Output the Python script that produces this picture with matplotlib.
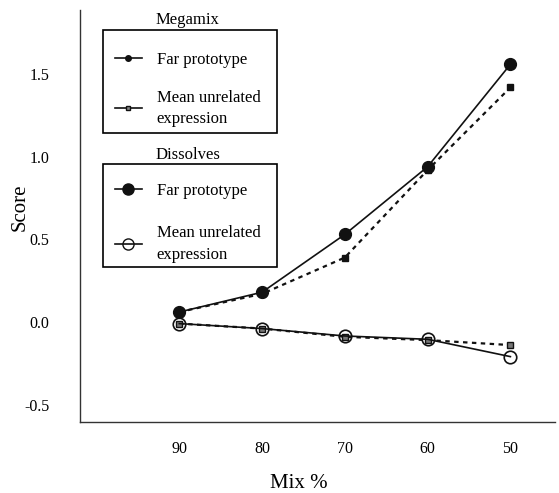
import matplotlib
matplotlib.use("Agg")
import matplotlib.pyplot as plt
from matplotlib.lines import Line2D
from matplotlib.patches import Rectangle

plt.rcParams['font.family'] = ['Liberation Serif', 'DejaVu Serif']

mix = [90, 80, 70, 60, 50]
mega_far = [0.06, 0.17, 0.39, 0.92, 1.42]
mega_unrel = [-0.01, -0.04, -0.09, -0.11, -0.14]
diss_far = [0.06, 0.18, 0.53, 0.94, 1.56]
diss_unrel = [-0.01, -0.04, -0.085, -0.105, -0.21]
yticks = [-0.5, 0.0, 0.5, 1.0, 1.5]
ytick_labels = ['-0.5', '0.0', '0.5', '1.0', '1.5']

fig = plt.figure(figsize=(5.59, 4.93), dpi=100)
ax = fig.add_axes([0.143, 0.144, 0.85, 0.836])

c = '#111111'
ax.plot(mix, mega_far, linestyle=(0, (2, 2)), color=c, lw=1.6, marker='s', ms=4, mfc=c, mec=c, zorder=2)
ax.plot(mix, mega_unrel, linestyle=(0, (2, 2)), color=c, lw=1.6, marker='s', ms=4, mfc='#777777', mec=c, zorder=2)
ax.plot(mix, diss_far, linestyle='-', color=c, lw=1.2, marker='o', ms=8.5, mfc=c, mec=c, zorder=3)
ax.plot(mix, diss_unrel, linestyle='-', color=c, lw=1.2, marker='o', ms=9, mfc='none', mec=c, mew=1.2, zorder=3)

ax.set_xlim(102, 44.6)
ax.set_ylim(-0.606, 1.89)
ax.set_xticks(mix)
ax.set_xticklabels([str(m) for m in mix], fontsize=11.5)
ax.set_yticks(yticks)
ax.set_yticklabels(ytick_labels, fontsize=11.5)
ax.tick_params(length=0, pad=14)
ax.tick_params(axis='y', pad=22)
for s in ['top', 'right']:
    ax.spines[s].set_visible(False)
for s in ['left', 'bottom']:
    ax.spines[s].set_color('#333333')
    ax.spines[s].set_linewidth(1.0)

ax.set_ylabel('Score', fontsize=15)
ax.yaxis.set_label_coords(-0.105, 0.52)
ax.set_xlabel('Mix %', fontsize=15)
ax.xaxis.set_label_coords(0.46, -0.125)

h1 = [Line2D([], [], color=c, lw=1.2, marker='o', ms=4, mfc=c),
      Line2D([], [], color=c, lw=1.2, marker='s', ms=3.5, mfc='#888888')]
h2 = [Line2D([], [], color=c, lw=1.2, marker='o', ms=8, mfc=c),
      Line2D([], [], color=c, lw=1.2, marker='o', ms=8, mfc='none')]
labels = ['Far prototype', 'Mean unrelated\nexpression']


def make_legend(handles, top, spacing):
    leg = ax.legend(handles, labels, loc='upper left', bbox_to_anchor=(0.074, top),
                    frameon=False, fontsize=12,
                    handlelength=1.6, handletextpad=0.9, labelspacing=spacing, borderpad=0,
                    borderaxespad=0)
    for t in leg.get_texts():
        t.set_linespacing(1.45)
    return leg


leg1 = make_legend(h1, 0.898, 1.3)
ax.add_artist(leg1)
leg2 = make_legend(h2, 0.581, 1.6)

for y0, y1 in [(0.701, 0.951), (0.376, 0.626)]:
    ax.add_patch(Rectangle((0.048, y0), 0.367, y1 - y0, transform=ax.transAxes,
                           fill=False, edgecolor='black', lw=1.2, zorder=5))

ax.text(0.16, 0.976, 'Megamix', transform=ax.transAxes, fontsize=12, va='center', ha='left')
ax.text(0.16, 0.648, 'Dissolves', transform=ax.transAxes, fontsize=12, va='center', ha='left')

fig.savefig('out.png', dpi=100)
